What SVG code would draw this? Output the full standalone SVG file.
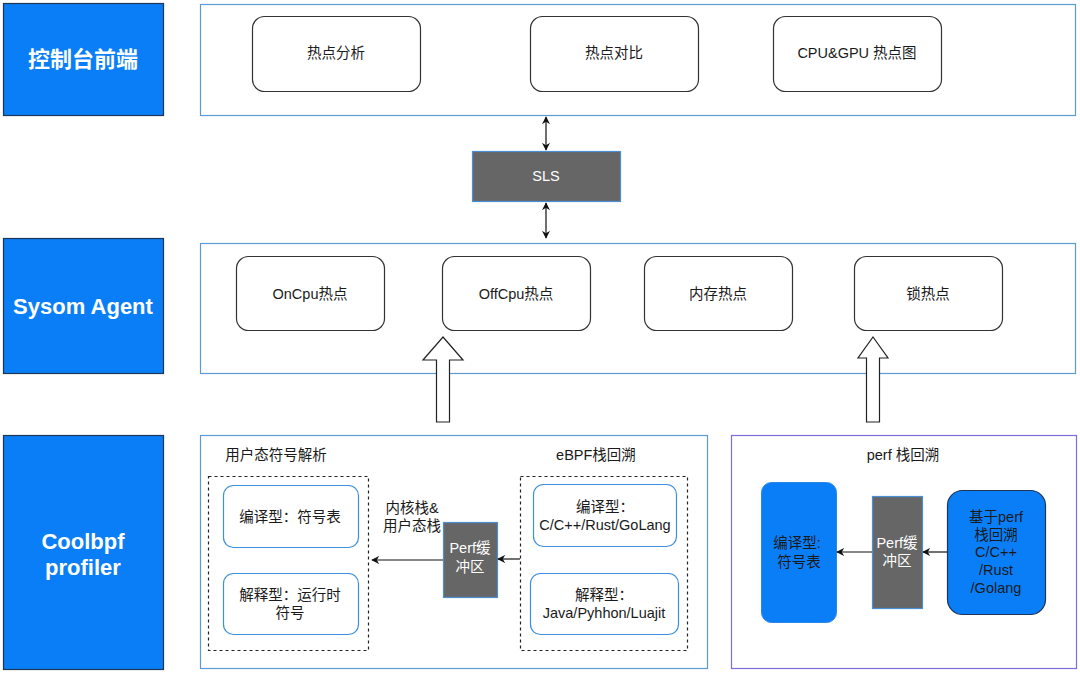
<svg xmlns="http://www.w3.org/2000/svg" width="1080" height="673" viewBox="0 0 1080 673">
<defs>
<style>
text{font-family:"Liberation Sans","Noto Sans CJK SC",sans-serif;font-size:14.5px;fill:#1a1a1a;text-anchor:middle;dominant-baseline:central}
.lbl{fill:#0A7EF7;stroke:#1d3557;stroke-width:1.2}
.lt{fill:#fff;font-weight:bold;font-size:22px}
.cont{fill:#fff;stroke:#5b9bd5;stroke-width:1.2}
.node{fill:#fff;stroke:#333;stroke-width:1.2}
.bnode{fill:#fff;stroke:#3d8fe0;stroke-width:1.2}
.dash{fill:none;stroke:#222;stroke-width:1.2;stroke-dasharray:3 3}
.gray{fill:#666;stroke:#4a90d9;stroke-width:1.2}
.wt{fill:#fff}
.ln{stroke:#111;stroke-width:1.2;fill:none}
.hollow{fill:#fff;stroke:#222;stroke-width:1.2}
</style>
<marker id="ah" viewBox="0 0 10 10" refX="9" refY="5" markerWidth="8" markerHeight="8" orient="auto-start-reverse" markerUnits="userSpaceOnUse">
<path d="M0,0 L10,5 L0,10 L3,5 Z" fill="#111"/>
</marker>
</defs>
<rect width="1080" height="673" fill="#fff"/>

<g id="label-frontend"><rect class="lbl" x="3.5" y="3.5" width="160" height="112"/><text class="lt" x="83" y="59">控制台前端</text></g>
<g id="label-agent"><rect class="lbl" x="3.5" y="238.5" width="160" height="135"/><text class="lt" x="83" y="306">Sysom Agent</text></g>
<g id="label-coolbpf"><rect class="lbl" x="3.5" y="435.5" width="160" height="234"/><text class="lt" x="83" y="541">Coolbpf</text><text class="lt" x="83" y="567">profiler</text></g>

<g id="frontend-container"><rect class="cont" x="200.5" y="4.5" width="875" height="111"/></g>
<g id="n-hotanalysis"><rect class="node" x="252.5" y="16.5" width="168" height="75" rx="12"/><text x="336" y="53">热点分析</text></g>
<g id="n-hotcompare"><rect class="node" x="530.5" y="16.5" width="168" height="75" rx="12"/><text x="614" y="53">热点对比</text></g>
<g id="n-cpugpu"><rect class="node" x="773.5" y="16.5" width="168" height="75" rx="12"/><text x="857" y="53">CPU&amp;GPU 热点图</text></g>

<g id="n-sls"><rect class="gray" x="472.5" y="151.5" width="148" height="50"/><text class="wt" x="546" y="176">SLS</text></g>

<g id="agent-container"><rect class="cont" x="200.5" y="243.5" width="875" height="130"/></g>
<g id="n-oncpu"><rect class="node" x="236.5" y="256.5" width="148" height="74" rx="12"/><text x="310" y="294">OnCpu热点</text></g>
<g id="n-offcpu"><rect class="node" x="442.5" y="256.5" width="148" height="74" rx="12"/><text x="516" y="294">OffCpu热点</text></g>
<g id="n-mem"><rect class="node" x="644.5" y="256.5" width="148" height="74" rx="12"/><text x="718" y="294">内存热点</text></g>
<g id="n-lock"><rect class="node" x="854.5" y="256.5" width="148" height="74" rx="12"/><text x="928" y="294">锁热点</text></g>

<g id="coolbpf-container"><rect class="cont" x="200.5" y="435.5" width="507" height="233"/>
<text x="276" y="455">用户态符号解析</text><text x="596" y="455">eBPF栈回溯</text></g>
<g id="user-sym-group"><rect class="dash" x="208.5" y="476.5" width="160" height="174"/></g>
<g id="n-compiled-sym"><rect class="bnode" x="223.5" y="485.5" width="135" height="62" rx="10"/><text x="290" y="517">编译型：符号表</text></g>
<g id="n-interp-sym"><rect class="bnode" x="223.5" y="573.5" width="135" height="61" rx="10"/><text x="290" y="595">解释型：运行时</text><text x="290" y="613">符号</text></g>
<g id="ebpf-group"><rect class="dash" x="520.5" y="476.5" width="167" height="174"/></g>
<g id="n-ebpf-compiled"><rect class="bnode" x="533.5" y="484.5" width="143" height="62" rx="10"/><text x="605" y="507">编译型：</text><text x="605" y="525">C/C++/Rust/GoLang</text></g>
<g id="n-ebpf-interp"><rect class="bnode" x="530.5" y="573.5" width="148" height="61" rx="10"/><text x="604" y="595">解释型：</text><text x="604" y="613">Java/Pyhhon/Luajit</text></g>
<g id="n-perfbuf1"><rect class="gray" x="443.5" y="522.5" width="54" height="75"/><text class="wt" x="470" y="548">Perf缓</text><text class="wt" x="470" y="567">冲区</text></g>
<text x="412" y="508">内核栈&amp;</text><text x="412" y="526">用户态栈</text>

<g id="perf-container"><rect x="731.5" y="435.5" width="345" height="233" fill="#fff" stroke="#7b6fd6" stroke-width="1.2"/><text x="903" y="455">perf 栈回溯</text></g>
<g id="n-perf-sym"><rect x="761.5" y="482.5" width="75" height="140" rx="10" fill="#0A7EF7" stroke="#2a86e8" stroke-width="1"/><text x="797" y="543">编译型:</text><text x="799" y="562">符号表</text></g>
<g id="n-perfbuf2"><rect class="gray" x="872.5" y="496.5" width="50" height="112"/><text class="wt" x="897" y="543">Perf缓</text><text class="wt" x="897" y="561">冲区</text></g>
<g id="n-perf-unwind"><rect x="947.5" y="490.5" width="98" height="124" rx="15" fill="#0A7EF7" stroke="#1d3557" stroke-width="1.2"/>
<text x="996" y="517">基于perf</text><text x="996" y="535">栈回溯</text><text x="996" y="552">C/C++</text><text x="996" y="570">/Rust</text><text x="996" y="588">/Golang</text></g>

<g id="connectors">
<line class="ln" x1="546" y1="117" x2="546" y2="150" marker-start="url(#ah)" marker-end="url(#ah)"/>
<line class="ln" x1="546" y1="203" x2="546" y2="238" marker-start="url(#ah)" marker-end="url(#ah)"/>
<path class="hollow" d="M443,337 L463,360 L449.5,360 L449.5,422 L436.5,422 L436.5,360 L423,360 Z"/>
<path class="hollow" d="M873,337 L888,358 L879.5,358 L879.5,422 L866.5,422 L866.5,358 L858,358 Z"/>
<line class="ln" x1="520" y1="559" x2="498" y2="559" marker-end="url(#ah)"/>
<line class="ln" x1="443" y1="560" x2="372" y2="560" marker-end="url(#ah)"/>
<line class="ln" x1="947" y1="552" x2="923" y2="552" marker-end="url(#ah)"/>
<line class="ln" x1="872" y1="552" x2="837" y2="552" marker-end="url(#ah)"/>
</g>
</svg>
